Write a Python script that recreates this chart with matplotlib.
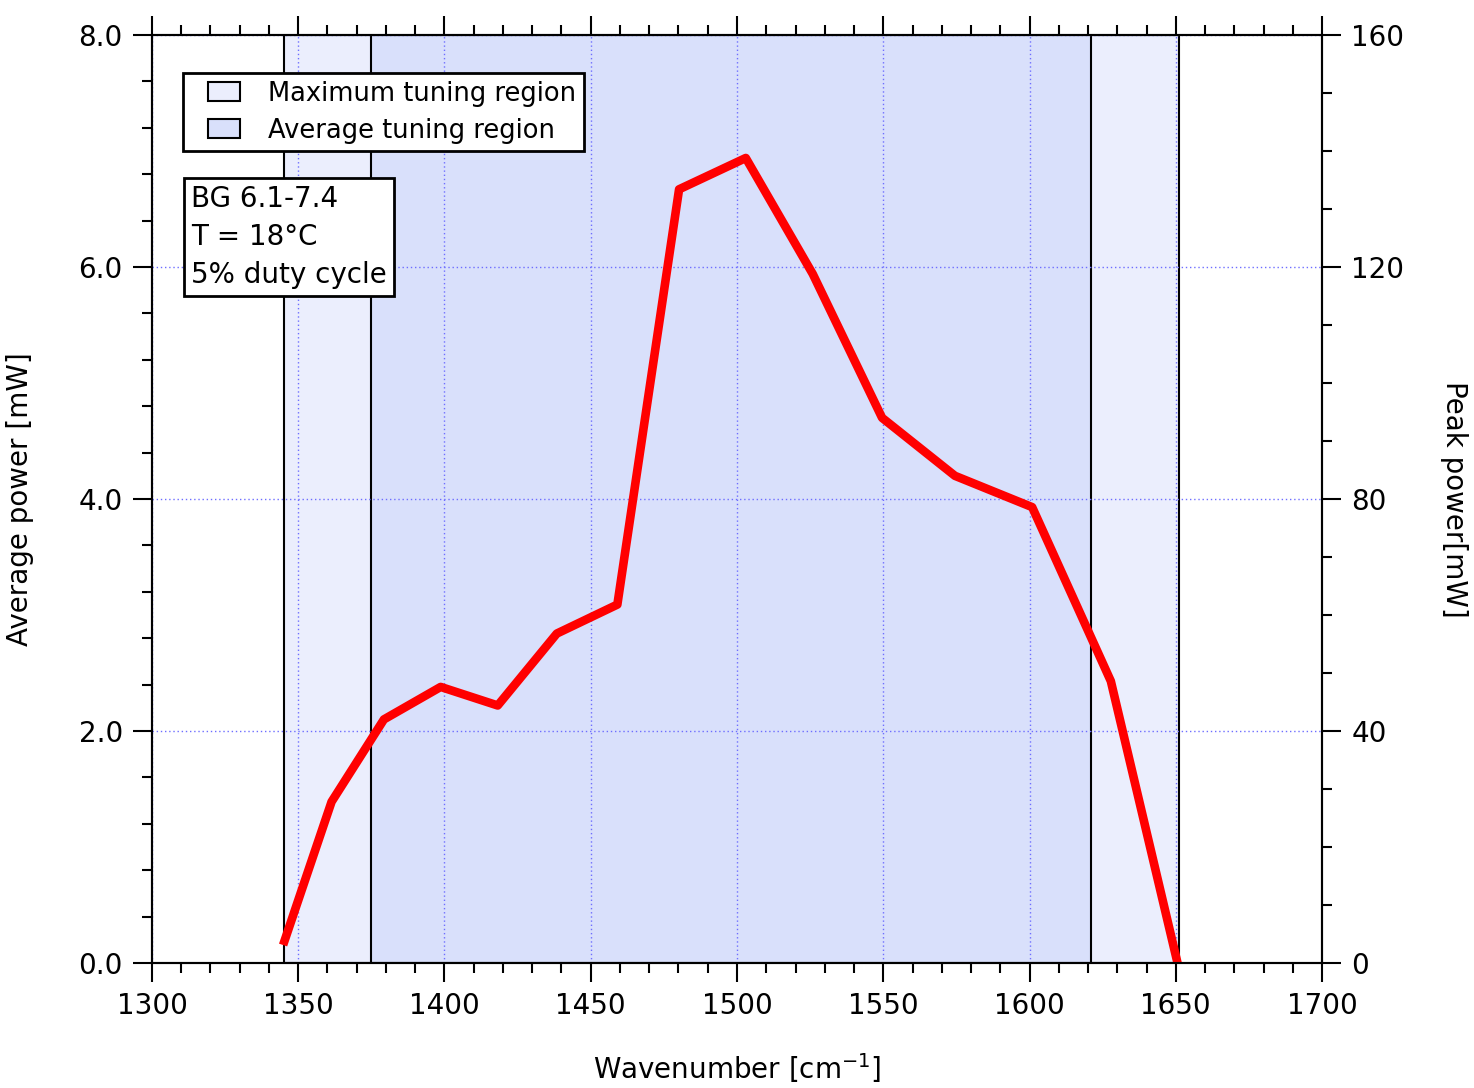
import numpy as np
import matplotlib
matplotlib.use("Agg")
import matplotlib.pyplot as plt
from matplotlib.patches import Patch, Rectangle
from matplotlib.legend_handler import HandlerPatch
from matplotlib.ticker import MultipleLocator, FormatStrFormatter

# measured tuning curve
wavenumber = [1345.3, 1361.4, 1379.3, 1398.7, 1418.2, 1438.4, 1459.1, 1480.2,
              1503.0, 1525.9, 1549.6, 1574.5, 1600.9, 1627.8, 1650.6]
avg_power = [0.19, 1.39, 2.10, 2.38, 2.22, 2.84, 3.09, 6.67,
             6.94, 5.94, 4.70, 4.20, 3.93, 2.43, 0.0]

max_region = (1345.3, 1651.1)
avg_region = (1375.0, 1621.1)
duty_cycle = 0.05

plt.rcParams['font.family'] = ['DejaVu Sans']
plt.rcParams['font.size'] = 20

fig = plt.figure(figsize=(14.74, 10.88), dpi=100)
ax = fig.add_axes([0.1031, 0.1149, 0.7938, 0.8529])

max_col = '#EBEEFD'
avg_col = '#D9E0FB'
ax.axvspan(*max_region, facecolor=max_col, edgecolor='black', lw=1.5, zorder=0.5)
ax.axvspan(*avg_region, facecolor=avg_col, edgecolor='black', lw=1.5, zorder=0.6)

ax.plot(wavenumber, avg_power, color='red', lw=6.2, zorder=3)

ax.set_xlim(1300, 1700)
ax.set_ylim(0, 8)
ax.xaxis.set_major_locator(MultipleLocator(50))
ax.xaxis.set_minor_locator(MultipleLocator(10))
ax.yaxis.set_major_locator(MultipleLocator(2))
ax.yaxis.set_minor_locator(MultipleLocator(0.4))
ax.yaxis.set_major_formatter(FormatStrFormatter('%.1f'))
ax.grid(True, which='major', color='#6E6EFF', ls=(0, (1, 2)), lw=1)

ax.tick_params(which='both', direction='out', width=1.5, top=True, labeltop=False)
ax.tick_params(which='major', length=14, pad=7)
ax.tick_params(which='minor', length=7)
for s in ax.spines.values():
    s.set_linewidth(1.5)

ax.set_xlabel('Wavenumber [cm$^{\\mathregular{-1}}$]', labelpad=22)
ax.set_ylabel('Average power [mW]', labelpad=32)

ax2 = ax.twinx()
ax2.set_ylim(0, 8 / duty_cycle)
ax2.yaxis.set_major_locator(MultipleLocator(40))
ax2.yaxis.set_minor_locator(MultipleLocator(10))
ax2.tick_params(which='both', direction='out', width=1.5)
ax2.tick_params(which='major', length=14, pad=7)
ax2.tick_params(which='minor', length=7)
for s in ax2.spines.values():
    s.set_linewidth(1.5)
ax2.set_ylabel('Peak power[mW]', rotation=270, labelpad=46)


# legend box drawn in the right part of the handle area
def small_box(legend, orig_handle, xdescent, ydescent, width, height, fontsize):
    w = width * 32 / 49
    return Rectangle((width - w - xdescent, -ydescent), w, height)


handles = [Patch(facecolor=max_col, edgecolor='black', lw=1.5, label='Maximum tuning region'),
           Patch(facecolor=avg_col, edgecolor='black', lw=1.5, label='Average tuning region')]
leg = ax2.legend(handles=handles, loc='upper left', bbox_to_anchor=(0.0265, 0.959),
                 borderaxespad=0, fancybox=False, framealpha=1, edgecolor='black',
                 fontsize=18.5, handlelength=1.9, handleheight=0.75, handletextpad=1.1,
                 borderpad=0.3, labelspacing=0.42,
                 handler_map={Patch: HandlerPatch(patch_func=small_box)})
leg.get_frame().set_linewidth(2)

ax2.text(0.0333, 0.838, 'BG 6.1-7.4\nT = 18°C\n5% duty cycle', transform=ax.transAxes,
         va='top', ha='left', linespacing=1.45,
         bbox=dict(boxstyle='square,pad=0.25', facecolor='white', edgecolor='black', lw=2))

fig.savefig('out.png', dpi=100)
